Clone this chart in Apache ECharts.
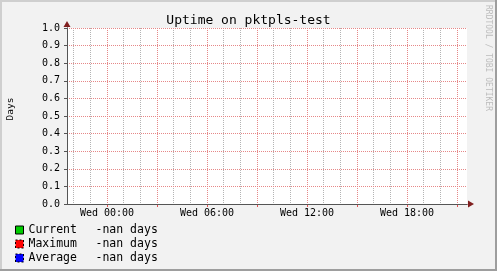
<!DOCTYPE html>
<html><head><meta charset="utf-8">
<script src="https://cdn.jsdelivr.net/npm/echarts@6/dist/echarts.min.js"></script>
<style>html,body{margin:0;padding:0;background:#f2f2f2}#c{width:497px;height:271px}</style>
</head><body><div id="c"></div><script>
// ---- data ----
const titleText = 'Uptime on pktpls-test';
const yAxisName = 'Days';
const watermark = 'RRDTOOL / TOBI OETIKER';
const seriesNames = ['Current', 'Maximum', 'Average'];
const seriesColors = ['#00cc00', '#ff0000', '#0000ff'];
const legendValues = ['-nan days', '-nan days', '-nan days'];
const currentValues = [];
const maximumValues = [];
const averageValues = [];
// x axis: hours relative to Wed 00:00
const xMin = -2.4, xMax = 21.6;
const minorHours = [-2, -1, 1, 2, 4, 5, 7, 8, 10, 11, 13, 14, 16, 17, 19, 20];
const majorHours = [0, 3, 6, 9, 12, 15, 18, 21];
const labelHours = [0, 6, 12, 18];
const tickLabels = ['Wed 00:00', 'Wed 06:00', 'Wed 12:00', 'Wed 18:00'];
const yMin = 0, yMax = 1, yStep = 0.1;

// ---- chart ----
const MONO = '"DejaVu Sans Mono", monospace';
const minorColor = '#b4b4b4';
const majorColor = '#e68888';
const arrowColor = '#801f1f';
const axisColor = '#555';
const chart = echarts.init(document.getElementById('c'), null, {renderer: 'canvas'});

const valuesByName = {};
seriesNames.forEach((n, i) => valuesByName[n] = legendValues[i]);
const seriesData = [currentValues, maximumValues, averageValues];

const option = {
  backgroundColor: '#f2f2f2',
  animation: false,
  title: {
    text: titleText, left: 'center', top: 9,
    textStyle: {fontFamily: MONO, fontSize: 13, fontWeight: 'normal', color: '#000', lineHeight: 13}
  },
  grid: {left: 67, right: 30, top: 28, bottom: 67, show: true, backgroundColor: '#fff', borderWidth: 0,
    outerBoundsMode: 'none'},
  legend: {
    orient: 'vertical', left: 15, top: 223, bottom: 0, padding: 0, itemWidth: 8, itemHeight: 8, itemGap: 0,
    icon: 'rect', selectedMode: false,
    textStyle: {
      fontFamily: MONO, fontSize: 11.5, color: '#000', lineHeight: 14,
      rich: {
        n: {fontFamily: MONO, fontSize: 11.5, width: 67, lineHeight: 14, color: '#000'},
        v: {fontFamily: MONO, fontSize: 11.5, lineHeight: 14, color: '#000'}
      }
    },
    formatter: name => '{n|' + name + '}{v|' + valuesByName[name] + '}',
    data: seriesNames.map((n, i) => ({
      name: n,
      itemStyle: {color: seriesColors[i], borderColor: '#000', borderWidth: 1, borderType: i === 0 ? 'solid' : [2, 2]}
    }))
  },
  xAxis: [
    { // labels + grey axis line
      type: 'value', min: xMin, max: xMax, position: 'bottom', z: 3,
      axisLine: {show: true, onZero: false, lineStyle: {color: axisColor, width: 1}},
      axisTick: {show: false, customValues: labelHours},
      axisLabel: {
        customValues: labelHours, margin: 4, fontFamily: MONO, fontSize: 10, color: '#000',
        formatter: v => tickLabels[labelHours.indexOf(v)]
      },
      splitLine: {show: false}
    },
    { // minor grid
      type: 'value', min: xMin, max: xMax, position: 'bottom', z: 0,
      axisLine: {show: false, onZero: false},
      axisTick: {show: false, customValues: minorHours},
      axisLabel: {show: false, customValues: minorHours},
      splitLine: {show: true, lineStyle: {color: minorColor, type: [1, 1], width: 1}}
    },
    { // major grid + red ticks + arrow
      type: 'value', min: xMin, max: xMax, position: 'bottom', z: 1,
      axisLine: {show: true, onZero: false, symbol: ['none', 'triangle'], symbolSize: [7, 6], symbolOffset: [0, 4],
        lineStyle: {color: arrowColor, width: 1}},
      axisTick: {show: true, customValues: majorHours, length: 3, lineStyle: {color: '#e05050', width: 1}},
      axisLabel: {show: false, customValues: majorHours},
      splitLine: {show: true, lineStyle: {color: majorColor, type: [1, 1], width: 1}}
    }
  ],
  yAxis: [
    {
      type: 'value', min: yMin, max: yMax, interval: yStep, z: 3, position: 'left',
      axisLine: {show: true, onZero: false, lineStyle: {color: axisColor, width: 1}},
      axisTick: {show: true, length: 3, lineStyle: {color: axisColor, width: 1}},
      axisLabel: {margin: 7, fontFamily: MONO, fontSize: 10, color: '#000', formatter: v => v.toFixed(1)},
      splitLine: {show: true, lineStyle: {color: majorColor, type: [1, 1], width: 1}}
    },
    {
      type: 'value', min: yMin, max: yMax, interval: yStep, z: 1, position: 'left', offset: 0,
      axisLine: {show: true, onZero: false, symbol: ['none', 'triangle'], symbolSize: [7, 6], symbolOffset: [0, 4],
        lineStyle: {color: arrowColor, width: 1}},
      axisTick: {show: false}, axisLabel: {show: false}, splitLine: {show: false}
    }
  ],
  series: seriesNames.map((n, i) => ({
    name: n, type: 'bar', xAxisIndex: 0, yAxisIndex: 0,
    itemStyle: {color: seriesColors[i]},
    data: seriesData[i]
  })),
  graphic: [
    {type: 'rect', shape: {x: 0, y: 0, width: 497, height: 2}, style: {fill: '#cfcfcf'}, silent: true},
    {type: 'rect', shape: {x: 0, y: 0, width: 2, height: 271}, style: {fill: '#cfcfcf'}, silent: true},
    {type: 'rect', shape: {x: 0, y: 269, width: 497, height: 2}, style: {fill: '#9e9e9e'}, silent: true},
    {type: 'rect', shape: {x: 495, y: 0, width: 2, height: 271}, style: {fill: '#9e9e9e'}, silent: true},
    {type: 'text', x: 10.5, y: 109, rotation: Math.PI / 2, silent: true,
      style: {text: yAxisName, fontFamily: MONO, fontSize: 9.5, fill: '#000', align: 'center', verticalAlign: 'middle'}},
    {type: 'text', x: 488, y: 5, rotation: -Math.PI / 2, silent: true,
      style: {text: watermark, fontFamily: MONO, fontSize: 8, fill: '#bdbdbd', align: 'left', verticalAlign: 'middle'}}
  ]
};
chart.setOption(option);
</script></body></html>
